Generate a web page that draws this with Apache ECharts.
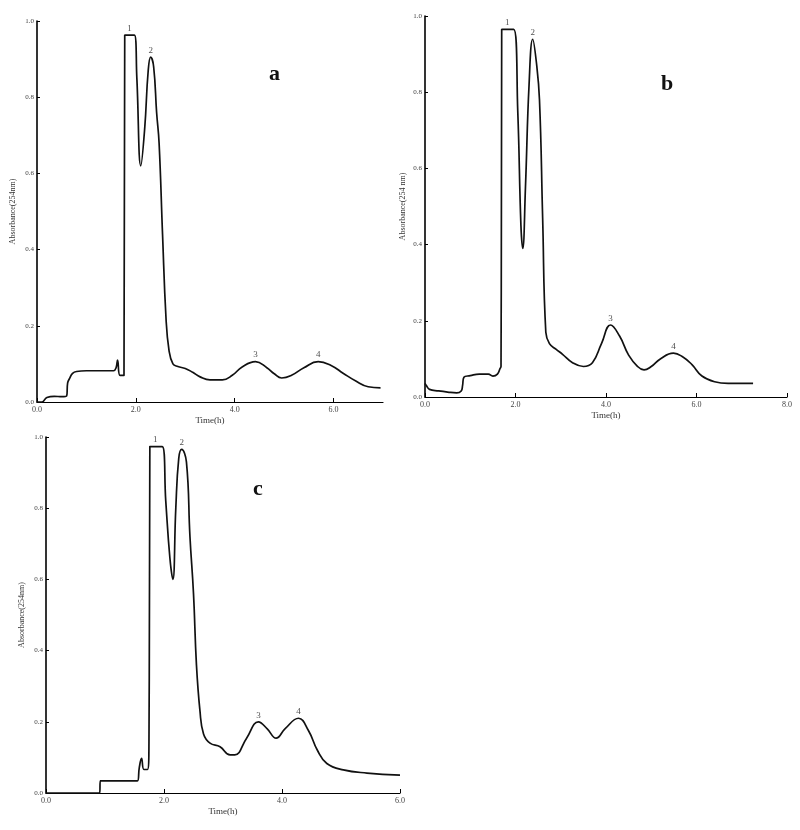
<!DOCTYPE html>
<html>
<head>
<meta charset="utf-8">
<title>Absorbance chromatograms</title>
<script src="https://cdn.jsdelivr.net/npm/echarts@6/dist/echarts.min.js"></script>
<style>
  html, body { margin: 0; padding: 0; background: #fff; }
  #main { width: 800px; height: 830px; }
</style>
</head>
<body>
<div id="main"></div>
<script>
// 曲线 a
var timeA = [0, 0.1, 0.2, 0.35, 0.5, 0.6, 0.62, 0.66, 0.72, 0.8, 1.0, 1.3, 1.55, 1.6, 1.63, 1.68, 1.76, 1.775, 1.97, 2.02, 2.1, 2.18, 2.25, 2.3, 2.36, 2.42, 2.47, 2.54, 2.61, 2.67, 2.75, 2.85, 3.0, 3.15, 3.3, 3.5, 3.75, 3.95, 4.15, 4.42, 4.65, 4.8, 4.95, 5.15, 5.4, 5.69, 5.95, 6.2, 6.45, 6.7, 6.95];
var absA  = [0, 0, 0.012, 0.015, 0.014, 0.016, 0.05, 0.062, 0.075, 0.08, 0.082, 0.082, 0.082, 0.09, 0.11, 0.07, 0.07, 0.963, 0.963, 0.85, 0.62, 0.72, 0.87, 0.905, 0.88, 0.76, 0.68, 0.44, 0.22, 0.136, 0.1, 0.093, 0.088, 0.078, 0.066, 0.058, 0.058, 0.07, 0.092, 0.106, 0.09, 0.074, 0.063, 0.07, 0.09, 0.106, 0.096, 0.075, 0.055, 0.04, 0.037];
// 曲线 b
var timeB = [0, 0.03, 0.1, 0.3, 0.5, 0.7, 0.8, 0.83, 0.86, 1.0, 1.2, 1.4, 1.5, 1.6, 1.66, 1.68, 1.695, 1.96, 2.05, 2.12, 2.16, 2.22, 2.3, 2.38, 2.46, 2.53, 2.6, 2.67, 2.75, 2.9, 3.04, 3.26, 3.5, 3.7, 3.9, 4.1, 4.3, 4.5, 4.7, 4.84, 5.0, 5.2, 5.49, 5.7, 5.9, 6.12, 6.4, 6.7, 7.0, 7.25];
var absB  = [0.036, 0.03, 0.02, 0.016, 0.013, 0.011, 0.016, 0.03, 0.052, 0.056, 0.06, 0.06, 0.055, 0.06, 0.075, 0.08, 0.965, 0.965, 0.75, 0.45, 0.39, 0.55, 0.82, 0.939, 0.88, 0.78, 0.47, 0.17, 0.14, 0.125, 0.112, 0.09, 0.08, 0.09, 0.14, 0.189, 0.16, 0.11, 0.08, 0.071, 0.08, 0.1, 0.115, 0.105, 0.085, 0.055, 0.04, 0.036, 0.036, 0.036];
// 曲线 c
var timeC = [0, 0.5, 0.91, 0.92, 1.2, 1.55, 1.58, 1.62, 1.66, 1.72, 1.745, 1.76, 1.97, 2.03, 2.1, 2.15, 2.2, 2.25, 2.3, 2.38, 2.44, 2.5, 2.55, 2.61, 2.67, 2.78, 2.95, 3.12, 3.2, 3.4, 3.6, 3.75, 3.9, 4.05, 4.28, 4.45, 4.6, 4.76, 5.04, 5.44, 6.0];
var absC  = [0, 0, 0, 0.034, 0.034, 0.034, 0.07, 0.097, 0.066, 0.066, 0.14, 0.973, 0.973, 0.82, 0.66, 0.6, 0.8, 0.94, 0.965, 0.93, 0.72, 0.56, 0.36, 0.23, 0.166, 0.14, 0.13, 0.107, 0.107, 0.154, 0.2, 0.18, 0.154, 0.18, 0.21, 0.175, 0.12, 0.083, 0.065, 0.056, 0.05];

// 峰编号 [time, absorbance, text]
var peaksA = [[1.87, 0.963, '1'], [2.3, 0.905, '2'], [4.42, 0.106, '3'], [5.69, 0.106, '4']];
var peaksB = [[1.82, 0.965, '1'], [2.38, 0.939, '2'], [4.1, 0.189, '3'], [5.49, 0.115, '4']];
var peaksC = [[1.85, 0.973, '1'], [2.3, 0.965, '2'], [3.6, 0.2, '3'], [4.28, 0.21, '4']];

// 刻度
var yTicks  = [0, 0.2, 0.4, 0.6, 0.8, 1.0];
var xTicksA = [0, 2, 4, 6];
var xTicksB = [0, 2, 4, 6, 8];
var xTicksC = [0, 2, 4, 6];

var serif = 'Liberation Serif';

function pairs(xs, ys) {
  var out = [];
  for (var i = 0; i < xs.length; i++) {
    out.push([xs[i], ys[i]]);
  }
  return out;
}

function fmt(v) {
  return v.toFixed(1);
}

function makeX(idx, max, ticks) {
  return {
    type: 'value',
    gridIndex: idx,
    min: 0,
    max: max,
    name: 'Time(h)',
    nameLocation: 'middle',
    nameGap: 14,
    nameTextStyle: { fontFamily: serif, fontSize: 9, color: '#333' },
    axisLine: { lineStyle: { color: '#000', width: 1.2 } },
    axisTick: { inside: true, length: 4, customValues: ticks, lineStyle: { color: '#000' } },
    axisLabel: { customValues: ticks, formatter: fmt, fontFamily: serif, fontSize: 8, color: '#444', margin: 4 },
    splitLine: { show: false }
  };
}

function makeY(idx, name, gap) {
  return {
    type: 'value',
    gridIndex: idx,
    min: 0,
    max: 1.0,
    name: name,
    nameLocation: 'middle',
    nameRotate: 90,
    nameGap: gap,
    nameTextStyle: { fontFamily: serif, fontSize: 8, color: '#333' },
    axisLine: { lineStyle: { color: '#000', width: 1.6 } },
    axisTick: { inside: true, length: 3, customValues: yTicks, lineStyle: { color: '#000' } },
    axisLabel: { customValues: yTicks, formatter: fmt, fontFamily: serif, fontSize: 7, color: '#444', margin: 3 },
    splitLine: { show: false }
  };
}

function curve(idx, xs, ys) {
  return {
    type: 'line',
    xAxisIndex: idx,
    yAxisIndex: idx,
    data: pairs(xs, ys),
    smooth: 0.45,
    showSymbol: false,
    lineStyle: { color: '#111', width: 1.7 },
    silent: true
  };
}

function peakLabels(idx, peaks) {
  return {
    type: 'scatter',
    xAxisIndex: idx,
    yAxisIndex: idx,
    symbolSize: 0,
    data: peaks.map(function (p) { return { value: [p[0], p[1]], name: p[2] }; }),
    label: {
      show: true,
      position: 'top',
      distance: 2,
      formatter: '{b}',
      fontFamily: serif,
      fontSize: 9,
      color: '#222'
    },
    silent: true
  };
}

var myChart = echarts.init(document.getElementById('main'));
var option = {
  animation: false,
  backgroundColor: '#fff',
  title: [
    { text: 'a', left: 264, top: 58, textStyle: { fontFamily: serif, fontSize: 22, fontWeight: 'bold', color: '#111' } },
    { text: 'b', left: 656, top: 68, textStyle: { fontFamily: serif, fontSize: 22, fontWeight: 'bold', color: '#111' } },
    { text: 'c', left: 248, top: 473, textStyle: { fontFamily: serif, fontSize: 22, fontWeight: 'bold', color: '#111' } }
  ],
  grid: [
    { left: 37, top: 21, width: 346, height: 381 },
    { left: 425, top: 16, width: 362, height: 381 },
    { left: 46, top: 437, width: 354, height: 356 }
  ],
  xAxis: [
    makeX(0, 7, xTicksA),
    makeX(1, 8, xTicksB),
    makeX(2, 6, xTicksC)
  ],
  yAxis: [
    makeY(0, 'Absorbance(254nm)', 20),
    makeY(1, 'Absorbance(254 nm)', 18),
    makeY(2, 'Absorbance(254nm)', 20)
  ],
  series: [
    curve(0, timeA, absA),
    curve(1, timeB, absB),
    curve(2, timeC, absC),
    peakLabels(0, peaksA),
    peakLabels(1, peaksB),
    peakLabels(2, peaksC)
  ]
};
myChart.setOption(option);
</script>
</body>
</html>
